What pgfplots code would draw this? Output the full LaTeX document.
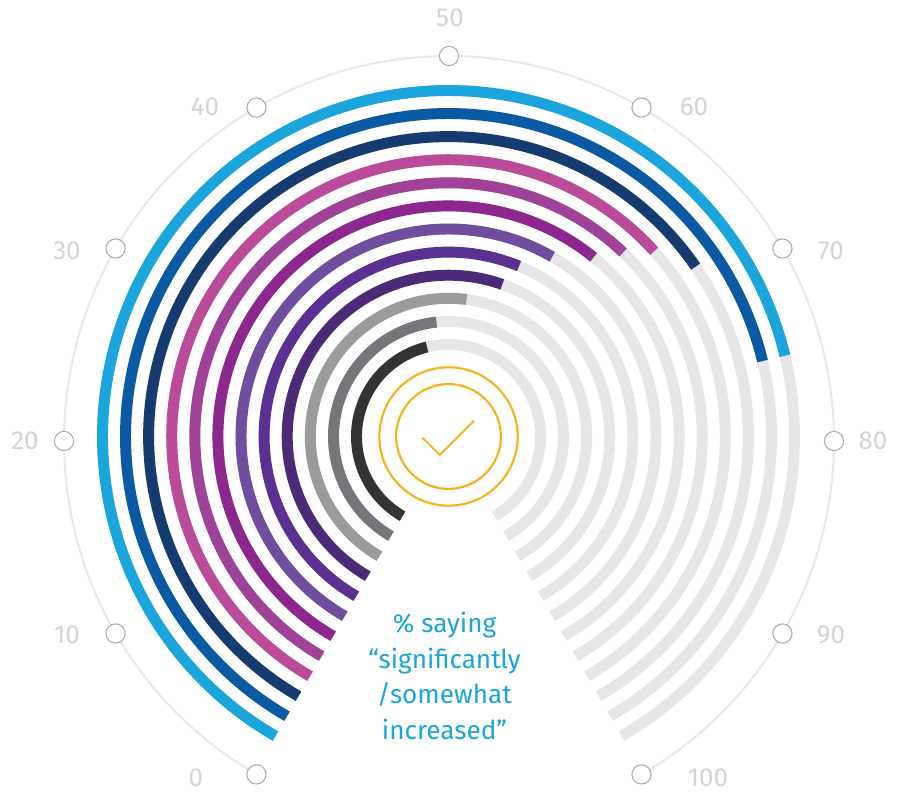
\documentclass[border=0pt]{standalone}
\usepackage{pgfplots}
\pgfplotsset{compat=1.18}
\usepackage{pgfplotstable}
\usepackage{fontspec}
\setmainfont{Fira Sans}

\definecolor{track}{HTML}{E6E6E6}
\definecolor{rimline}{HTML}{E8E8E8}
\definecolor{dotline}{HTML}{ABABAB}
\definecolor{ticktext}{HTML}{D4D4D4}
\definecolor{amber}{HTML}{F9B11C}
\definecolor{sky}{HTML}{1AA5DC}
\definecolor{ringA}{HTML}{1AA5DC}
\definecolor{ringB}{HTML}{0A5AA3}
\definecolor{ringC}{HTML}{163B70}
\definecolor{ringD}{HTML}{BC4A9B}
\definecolor{ringE}{HTML}{A0429A}
\definecolor{ringF}{HTML}{8D268F}
\definecolor{ringG}{HTML}{714D9F}
\definecolor{ringH}{HTML}{5C3093}
\definecolor{ringI}{HTML}{4D2A78}
\definecolor{ringJ}{HTML}{9A9B9C}
\definecolor{ringK}{HTML}{747679}
\definecolor{ringL}{HTML}{333333}

% Percentage scale along the dial, 0 at lower left, 100 at lower right
\pgfplotstableread[row sep=\\]{pct\\0\\0.5\\1\\1.5\\2\\2.5\\3\\3.5\\4\\4.5\\5\\5.5\\6\\6.5\\7\\7.5\\8\\8.5\\9\\9.5\\10\\10.5\\11\\11.5\\12\\12.5\\13\\13.5\\14\\14.5\\15\\15.5\\16\\16.5\\17\\17.5\\18\\18.5\\19\\19.5\\20\\20.5\\21\\21.5\\22\\22.5\\23\\23.5\\24\\24.5\\25\\25.5\\26\\26.5\\27\\27.5\\28\\28.5\\29\\29.5\\30\\30.5\\31\\31.5\\32\\32.5\\33\\33.5\\34\\34.5\\35\\35.5\\36\\36.5\\37\\37.5\\38\\38.5\\39\\39.5\\40\\40.5\\41\\41.5\\42\\42.5\\43\\43.5\\44\\44.5\\45\\45.5\\46\\46.5\\47\\47.5\\48\\48.5\\49\\49.5\\50\\50.5\\51\\51.5\\52\\52.5\\53\\53.5\\54\\54.5\\55\\55.5\\56\\56.5\\57\\57.5\\58\\58.5\\59\\59.5\\60\\60.5\\61\\61.5\\62\\62.5\\63\\63.5\\64\\64.5\\65\\65.5\\66\\66.5\\67\\67.5\\68\\68.5\\69\\69.5\\70\\70.5\\71\\71.5\\72\\72.5\\73\\73.5\\74\\74.5\\75\\75.5\\76\\76.5\\77\\77.5\\78\\78.5\\79\\79.5\\80\\80.5\\81\\81.5\\82\\82.5\\83\\83.5\\84\\84.5\\85\\85.5\\86\\86.5\\87\\87.5\\88\\88.5\\89\\89.5\\90\\90.5\\91\\91.5\\92\\92.5\\93\\93.5\\94\\94.5\\95\\95.5\\96\\96.5\\97\\97.5\\98\\98.5\\99\\99.5\\100\\}\dial

\pgfplotstableread{
pct
0
10
20
30
40
50
60
70
80
90
100
}\tickpos

\pgfplotstableread{
x y lab
-253 -337 0
-382 -194 10
-424 0 20
-382 190 30
-244 334 40
1 423 50
245 334 60
382 190 70
424 0 80
382 -194 90
259 -337 100
}\ticklab

% #1 centre x, #2 centre y, #3 radius, #4 colour, #5 width, #6 value reached
\newcommand{\ringarc}[6]{%
  \addplot[draw=#4, line width=#5, line cap=butt, line join=round,
    restrict expr to domain={\thisrow{pct}}{0:#6}]
    table[x index=0, y index=0,
      x expr={#1+#3*sin(3*\thisrow{pct}-150)},
      y expr={#2+#3*cos(3*\thisrow{pct}-150)}] {\dial};
}
% #1 radius, #2 colour, #3 value reached
\newcommand{\ring}[3]{%
  \ringarc{-0.5}{4.5}{#1}{track}{8.2pt}{100}
  \ringarc{-0.5}{4.5}{#1}{#2}{8.2pt}{#3}
}

\begin{document}
\begin{tikzpicture}
\path[use as bounding box] (0,0) rectangle (678pt,594.75pt);
\begin{axis}[
  at={(0,0)}, anchor=south west,
  x=0.75pt, y=0.75pt,
  xmin=-449, xmax=455, ymin=-352, ymax=441,
  hide axis, clip=false,
]
% outer rim with its marker dots
\ringarc{0}{0}{385}{rimline}{1.5pt}{100}
\addplot[only marks, mark=*, mark size=7.2pt,
  mark options={draw=dotline, fill=white, line width=0.8pt}]
  table[x index=0, y index=0, x expr={385*sin(3*\thisrow{pct}-150)}, y expr={385*cos(3*\thisrow{pct}-150)}] {\tickpos};

\ring{346}{ringA}{75.5}
\ring{323}{ringB}{75.5}
\ring{299.9}{ringC}{68.5}
\ring{276.8}{ringD}{66}
\ring{253.7}{ringE}{64.5}
\ring{230.6}{ringF}{63}
\ring{207.5}{ringG}{60}
\ring{184.4}{ringH}{57.5}
\ring{161.3}{ringI}{56.5}
\ring{138.2}{ringJ}{52.5}
\ring{115}{ringK}{48}
\ring{92}{ringL}{45.5}

% scale numbers
\addplot[only marks, mark=none, point meta=explicit,
  nodes near coords={\pgfmathprintnumber[assume math mode=true]{\pgfplotspointmeta}},
  every node near coord/.style={anchor=center, inner sep=0pt, font=\fontsize{19.5pt}{22pt}\selectfont, text=ticktext}]
  table[x=x, y=y, meta=lab] {\ticklab};

% tick mark at the centre
\addplot[draw=amber, line width=1.4pt, line join=miter] coordinates {(-26.7,3.3) (-9.3,-14) (25,20.3)};
\draw[amber, line width=1.6pt] (axis cs:-0.5,4.5) circle[radius=52.4];
\draw[amber, line width=1.6pt] (axis cs:-0.5,4.5) circle[radius=69.2];

\node[text=sky, align=center, anchor=center, inner sep=0pt,
  font=\fontsize{19.6pt}{26.6pt}\selectfont] at (axis cs:-4.5,-235)
  {\% saying\\“signif{}icantly\\/somewhat\\increased”};
\end{axis}
\end{tikzpicture}
\end{document}
